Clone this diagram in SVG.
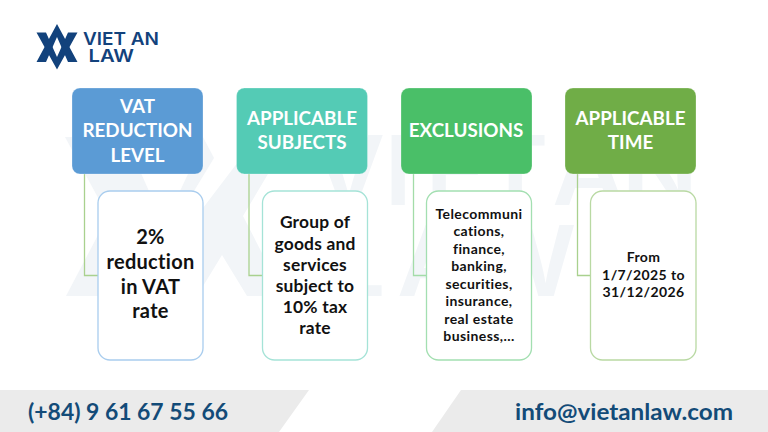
<svg xmlns="http://www.w3.org/2000/svg" width="768" height="432" viewBox="0 0 768 432">
<style>
text{font-family:Lato,"Open Sans",sans-serif;font-weight:700;text-anchor:middle}
.h{fill:#fff;font-size:18.8px}
.b{fill:#111;font-size:20px;letter-spacing:.3px}
.m{fill:#111;font-size:17.4px;letter-spacing:.2px}
.s{fill:#111;font-size:14px;letter-spacing:.4px}
.f{fill:#134b78;font-size:23px}
.hd{stroke:#fff;stroke-opacity:.25;stroke-width:1}
.bx{fill:#fff;stroke-width:1.3}
.conn{fill:none;stroke-width:1.3}
.w{font-family:Inter,sans-serif;font-weight:600;text-anchor:start}
.wm{fill:#f2f5f8}
.lg{fill:#12427c}
</style>
<rect width="768" height="432" fill="#fff"/>
<g id="watermark">
<polygon class="wm" points="65,137 125,137 160,216 125,296 66,296 108,216"/>
<polygon class="wm" points="170,137 203,137 214,158 194,191 180,191 188,174"/>
<polygon class="wm" points="257,137 290,137 243,216 284,296 247,296 222,255 197,296 130,296 130,260 203,208"/>
<text class="w wm" transform="translate(0 205) scale(1.05 1)" font-size="96" x="297 366 405 459 500 526 592">VIET AN</text>
<text class="w wm" transform="translate(0 296) scale(1.05 1)" font-size="98" x="312 378 449">LAW</text>
</g>
<g id="logo">
<polygon class="lg" points="36.5,32.5 46,32.5 57,57 68,32.5 77.5,32.5 57,69.5"/>
<polygon class="lg" points="36.5,62 46,62 57,37 68,62 77.5,62 57,24"/>
<text class="w lg" x="83" y="44.5" font-size="17.5" textLength="76" lengthAdjust="spacingAndGlyphs">VIET AN</text>
<text class="w lg" x="88.5" y="61.7" font-size="17.5" textLength="45.5" lengthAdjust="spacingAndGlyphs">LAW</text>
</g>
<g id="connectors">
<path class="conn" stroke="#a9d18e" d="M84.5 174V275.5H98"/>
<path class="conn" stroke="#a9d18e" d="M249 174V275.5H263"/>
<path class="conn" stroke="#a3dca8" d="M413.5 174V275.5H427"/>
<path class="conn" stroke="#a9d18e" d="M577.5 174V275.5H591"/>
</g>
<g id="n1">
<rect class="hd" x="72" y="88" width="131" height="86" rx="8" fill="#5b9bd5"/>
<text class="h" x="137.5" y="112.5">VAT</text><text class="h" x="137.5" y="137">REDUCTION</text><text class="h" x="137.5" y="161.5">LEVEL</text>
</g>
<g id="n2">
<rect class="hd" x="236.5" y="88" width="131" height="86" rx="8" fill="#54cbb5"/>
<text class="h" x="302" y="124.5">APPLICABLE</text><text class="h" x="302" y="149">SUBJECTS</text>
</g>
<g id="n3">
<rect class="hd" x="401" y="88" width="131" height="86" rx="8" fill="#4abf68"/>
<text class="h" x="466" y="136.5">EXCLUSIONS</text>
</g>
<g id="n4">
<rect class="hd" x="565" y="88" width="131" height="86" rx="8" fill="#70ad47"/>
<text class="h" x="630.5" y="124.5">APPLICABLE</text><text class="h" x="630.5" y="149">TIME</text>
</g>
<g id="n5">
<rect class="bx" x="98" y="191" width="105" height="169" rx="12" stroke="#a9cdee"/>
<text class="b" x="150.5" y="244">2%</text><text class="b" x="150.5" y="269">reduction</text><text class="b" x="150.5" y="293.5">in VAT</text><text class="b" x="150.5" y="318">rate</text>
</g>
<g id="n6">
<rect class="bx" x="262.5" y="191" width="105" height="169" rx="12" stroke="#a5e3d7"/>
<text class="m" x="315" y="228">Group of</text><text class="m" x="315" y="249.5">goods and</text><text class="m" x="315" y="270.5">services</text><text class="m" x="315" y="292">subject to</text><text class="m" x="315" y="313">10% tax</text><text class="m" x="315" y="334">rate</text>
</g>
<g id="n7">
<rect class="bx" x="426.5" y="191" width="105" height="169" rx="12" stroke="#a3dfb1"/>
<text class="s" x="479" y="218.5">Telecommuni</text><text class="s" x="479" y="236">cations,</text><text class="s" x="479" y="253.5">finance,</text><text class="s" x="479" y="271">banking,</text><text class="s" x="479" y="288.5">securities,</text><text class="s" x="479" y="306">insurance,</text><text class="s" x="479" y="323.5">real estate</text><text class="s" x="479" y="341">business,...</text>
</g>
<g id="n8">
<rect class="bx" x="590.5" y="191" width="105.5" height="169" rx="12" stroke="#b9d9a3"/>
<text class="s" x="643.5" y="262">From</text><text class="s" x="643.5" y="279.5">1/7/2025 to</text><text class="s" x="643.5" y="297">31/12/2026</text>
</g>
<g id="footer">
<polygon points="0,390 309,390 279,432 0,432" fill="#ebebeb"/>
<polygon points="461,390 768,390 768,432 432,432" fill="#ebebeb"/>
<text class="f" x="128" y="419.5" textLength="200" lengthAdjust="spacingAndGlyphs">(+84) 9 61 67 55 66</text>
<text class="f" x="624" y="419.5" textLength="218" lengthAdjust="spacingAndGlyphs">info@vietanlaw.com</text>
</g>
</svg>
